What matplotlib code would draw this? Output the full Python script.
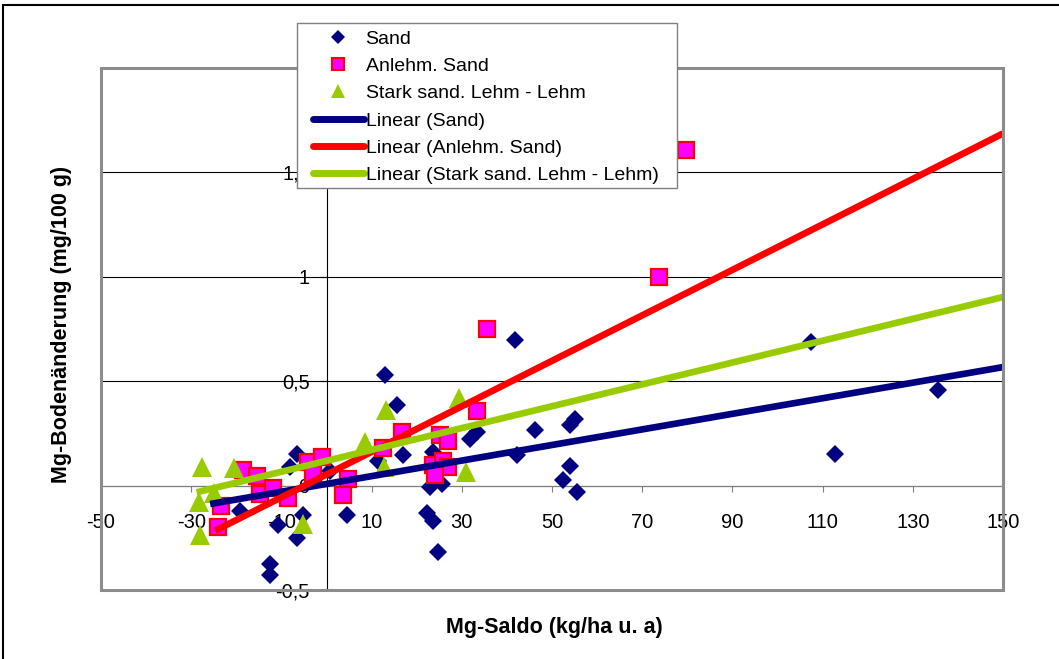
import numpy as np
import matplotlib
matplotlib.use('Agg')
import matplotlib.pyplot as plt
from matplotlib.lines import Line2D
from matplotlib.patches import Rectangle
from matplotlib.ticker import FuncFormatter

plt.rcParams['font.family'] = ['Liberation Sans', 'DejaVu Sans']

# Sand
sand_x = [-19.2, -12.5, -12.5, -10.8, -6.6, -5.1, -6.5, -8.0, 0.8, 4.5,
          11.5, 13.0, 15.6, 17.0, 22.2, 23.7, 24.8, 22.9, 25.5, 23.7,
          31.8, 33.3, 41.8, 42.2, 46.2, 54.0, 55.1, 54.0, 52.5, 55.5,
          107.4, 112.8, 135.6]
sand_y = [-0.12, -0.375, -0.43, -0.19, -0.25, -0.14, 0.15, 0.09, 0.07, -0.14,
          0.12, 0.53, 0.385, 0.145, -0.13, -0.17, -0.32, -0.005, 0.01, 0.16,
          0.225, 0.255, 0.695, 0.145, 0.265, 0.29, 0.32, 0.095, 0.025, -0.03,
          0.69, 0.15, 0.46]

# Anlehm. Sand
anl_x = [-24.0, -23.4, -18.5, -15.3, -14.8, -11.9, -8.5, -4.0, -1.1, -2.9,
         4.8, 3.7, 12.6, 16.7, 25.2, 27.0, 23.7, 25.9, 27.0, 24.1,
         33.3, 35.5, 73.7, 79.8]
anl_y = [-0.2, -0.1, 0.075, 0.045, -0.04, -0.012, -0.06, 0.115, 0.135, 0.055,
         0.032, -0.045, 0.18, 0.256, 0.24, 0.215, 0.1, 0.12, 0.09, 0.05,
         0.355, 0.75, 1.0, 1.605]

# Stark sand. Lehm - Lehm
stark_x = [-27.5, -28.0, -28.2, -25.0, -20.5, -5.3, 8.5, 12.8, 13.3, 29.3, 31.0]
stark_y = [0.09, -0.235, -0.08, -0.035, 0.085, -0.185, 0.21, 0.09, 0.36, 0.42, 0.065]

# linear trendlines
trend_slope = [0.00373, 0.01089, 0.00523]
trend_icpt = [0.008, 0.053, 0.1186]
trend_x0 = [-25.8, -24.7, -28.8]
trend_x1 = [150, 150, 150]

names = ['Sand', 'Anlehm. Sand', 'Stark sand. Lehm - Lehm']
colors = ['#000080', '#FF0000', '#99CC00']

xticks = [-50, -30, -10, 10, 30, 50, 70, 90, 110, 130, 150]
yticks = [-0.5, 0, 0.5, 1, 1.5, 2]

W, H = 1059, 659
fig = plt.figure(figsize=(W / 100, H / 100), dpi=100)
ax = fig.add_axes([101 / W, 1 - 590 / H, 902 / W, 522 / H])
ax.set_xlim(-50, 150)
ax.set_ylim(-0.5, 2.0)

ax.plot(sand_x, sand_y, ls='none', marker='D', ms=9.6, color=colors[0], mew=0, zorder=3)
ax.plot(anl_x, anl_y, ls='none', marker='s', ms=11.3, mfc='#FF00FF', mec='#FF0000', mew=1.6, zorder=4)
ax.plot(stark_x, stark_y, ls='none', marker='^', ms=14, color=colors[2], mew=0, zorder=5)

for k, c, x0, x1, col in zip(trend_slope, trend_icpt, trend_x0, trend_x1, colors):
    xs = np.array([x0, x1])
    ax.plot(xs, k * xs + c, color=col, lw=4.8, solid_capstyle='butt', zorder=6)

ax.spines['top'].set_visible(False)
ax.spines['right'].set_visible(False)
ax.spines['left'].set_position(('data', 0))
ax.spines['bottom'].set_position(('data', 0))
ax.spines['left'].set_color('black')
ax.spines['bottom'].set_color('#808080')
ax.spines['left'].set_linewidth(0.8)
ax.spines['bottom'].set_linewidth(0.8)

ax.add_patch(Rectangle((0, 0), 1, 1, transform=ax.transAxes, fill=False,
                       ec='#8c8c8c', lw=2.2, clip_on=False, zorder=7))

ax.set_xticks(xticks)
ax.set_yticks(yticks)
fmt = FuncFormatter(lambda v, p: ('%g' % v).replace('.', ','))
ax.xaxis.set_major_formatter(fmt)
ax.yaxis.set_major_formatter(fmt)
ax.yaxis.grid(True, color='black', lw=0.8)
ax.set_axisbelow(True)
ax.tick_params(axis='x', direction='out', length=4.5, width=0.8, color='#808080', pad=15, labelsize=14.5)
ax.tick_params(axis='y', direction='out', length=4, width=0.8, pad=8, labelsize=14.5)

fig.text(554 / W, 1 - 628 / H, 'Mg-Saldo (kg/ha u. a)', ha='center', va='center',
         fontsize=15.5, fontweight='bold')
fig.text(62 / W, 1 - 324 / H, 'Mg-Bodenänderung (mg/100 g)', ha='center', va='center',
         rotation=90, fontsize=15.5, fontweight='bold')

# legend box
fig.patches.append(Rectangle((297 / W, 1 - 188 / H), 380 / W, 165 / H, transform=fig.transFigure,
                             fc='white', ec='#808080', lw=1.0, zorder=4))
handles = [
    Line2D([], [], ls='none', marker='D', ms=7, color=colors[0], mew=0),
    Line2D([], [], ls='none', marker='s', ms=8.5, mfc='#FF00FF', mec='#FF0000', mew=1.5),
    Line2D([], [], ls='none', marker='^', ms=10.5, color=colors[2], mew=0),
]
for col in colors:
    handles.append(Line2D([], [], color=col, lw=5, solid_capstyle='round'))
labels = names + ['Linear (%s)' % n for n in names]
fig.legend(handles, labels, loc='upper left', bbox_to_anchor=(313 / W, 1 - 30 / H),
           bbox_transform=fig.transFigure, fontsize=14, frameon=False,
           handlelength=2.6, handletextpad=0.1, borderpad=0, borderaxespad=0,
           labelspacing=0.5)

# outer frame
fig.patches.append(Rectangle((3 / W, -0.1), 1.2, 1.1 - 5 / H, transform=fig.transFigure,
                             fill=False, ec='black', lw=1.5, zorder=10))

fig.savefig('out.png', dpi=100)
